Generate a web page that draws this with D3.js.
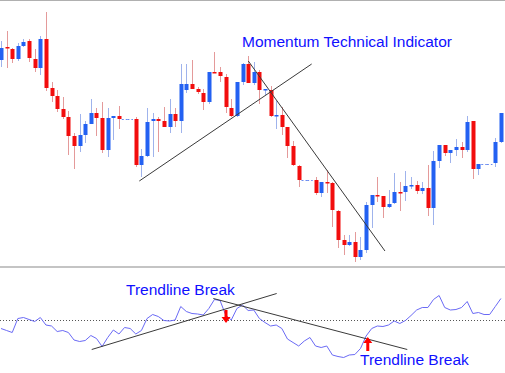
<!DOCTYPE html>
<html>
<head>
<meta charset="utf-8">
<script src="https://cdn.jsdelivr.net/npm/d3@7"></script>
<style>
  html, body { margin: 0; padding: 0; background: #fff; }
  svg { display: block; font-family: 'Liberation Sans', Arial, sans-serif; }
</style>
</head>
<body>
<div id="box-div"></div>
<script>
// candle data (price), one entry per bar
const opens = [1.3440,1.3453,1.3451,1.3441,1.3454,1.3459,1.3441,1.3432,1.3461,1.3412,
  1.3404,1.3391,1.3383,1.3364,1.3354,1.3365,1.3376,1.3387,1.3382,1.3350,
  1.3382,1.3384,1.3381,1.3381,1.3381,1.3335,1.3344,1.3379,1.3381,1.3379,
  1.3373,1.3386,1.3379,1.3410,1.3416,1.3411,1.3407,1.3398,1.3428,1.3428,
  1.3423,1.3392,1.3384,1.3418,1.3436,1.3417,1.3428,1.3410,1.3410,1.3384,
  1.3385,1.3373,1.3354,1.3334,1.3320,1.3320,1.3320,1.3307,1.3318,1.3317,
  1.3289,1.3260,1.3255,1.3258,1.3243,1.3250,1.3295,1.3305,1.3304,1.3293,
  1.3297,1.3308,1.3308,1.3314,1.3315,1.3309,1.3312,1.3292,1.3339,1.3355,
  1.3347,1.3350,1.3353,1.3350,1.3379,1.3331,1.3336,1.3336,1.3337,1.3358]
const highs = [1.3459,1.3469,1.3452,1.3457,1.3461,1.3461,1.3451,1.3464,1.3488,1.3418,
  1.3410,1.3403,1.3389,1.3367,1.3386,1.3379,1.3401,1.3392,1.3398,1.3392,
  1.3384,1.3394,1.3381,1.3381,1.3383,1.3351,1.3392,1.3387,1.3383,1.3393,
  1.3401,1.3392,1.3436,1.3436,1.3440,1.3413,1.3411,1.3428,1.3448,1.3433,
  1.3426,1.3401,1.3418,1.3437,1.3444,1.3438,1.3430,1.3411,1.3414,1.3399,
  1.3393,1.3373,1.3359,1.3335,1.3320,1.3320,1.3323,1.3318,1.3330,1.3318,
  1.3290,1.3265,1.3265,1.3268,1.3263,1.3298,1.3305,1.3323,1.3304,1.3310,
  1.3327,1.3318,1.3329,1.3323,1.3319,1.3318,1.3335,1.3349,1.3355,1.3355,
  1.3350,1.3361,1.3358,1.3384,1.3379,1.3336,1.3336,1.3336,1.3362,1.3387]
const lows = [1.3433,1.3432,1.3437,1.3439,1.3453,1.3438,1.3428,1.3425,1.3409,1.3398,
  1.3388,1.3381,1.3345,1.3331,1.3348,1.3357,1.3376,1.3364,1.3347,1.3343,
  1.3360,1.3371,1.3381,1.3381,1.3333,1.3323,1.3343,1.3343,1.3348,1.3373,
  1.3367,1.3373,1.3367,1.3407,1.3411,1.3406,1.3390,1.3396,1.3427,1.3418,
  1.3387,1.3383,1.3383,1.3415,1.3417,1.3415,1.3396,1.3405,1.3383,1.3371,
  1.3365,1.3342,1.3334,1.3313,1.3320,1.3320,1.3305,1.3303,1.3307,1.3273,
  1.3252,1.3245,1.3254,1.3238,1.3240,1.3247,1.3272,1.3298,1.3282,1.3292,
  1.3296,1.3289,1.3299,1.3311,1.3306,1.3306,1.3284,1.3275,1.3332,1.3344,
  1.3337,1.3344,1.3342,1.3348,1.3321,1.3325,1.3336,1.3336,1.3333,1.3357]
const closes = [1.3452,1.3452,1.3441,1.3454,1.3458,1.3442,1.3432,1.3461,1.3412,1.3404,
  1.3391,1.3383,1.3364,1.3354,1.3365,1.3376,1.3387,1.3382,1.3350,1.3382,
  1.3384,1.3381,1.3381,1.3381,1.3335,1.3344,1.3378,1.3381,1.3379,1.3373,
  1.3386,1.3379,1.3416,1.3416,1.3411,1.3408,1.3398,1.3428,1.3427,1.3424,
  1.3393,1.3384,1.3418,1.3436,1.3417,1.3428,1.3410,1.3411,1.3384,1.3385,
  1.3373,1.3354,1.3335,1.3320,1.3320,1.3320,1.3307,1.3318,1.3317,1.3290,
  1.3260,1.3255,1.3258,1.3243,1.3250,1.3295,1.3305,1.3304,1.3293,1.3296,
  1.3308,1.3307,1.3314,1.3315,1.3309,1.3312,1.3292,1.3339,1.3355,1.3347,
  1.3350,1.3353,1.3350,1.3378,1.3331,1.3336,1.3336,1.3336,1.3358,1.3387]

// momentum indicator values
const momentum = [99.85,99.81,99.77,100.05,100.07,100.03,99.99,100.07,99.92,99.90,
  99.79,99.81,99.77,99.62,99.59,99.61,99.71,99.65,99.49,99.67,
  99.82,99.74,99.87,99.85,99.74,99.81,100.05,100.13,100.09,100.01,
  100.00,100.02,100.29,100.19,100.15,100.14,100.12,100.25,100.43,100.41,
  100.12,100.02,100.25,100.32,100.21,100.22,100.05,99.97,99.90,99.92,
  99.85,99.64,99.57,99.50,99.60,99.67,99.50,99.47,99.50,99.32,
  99.29,99.27,99.32,99.33,99.45,99.70,99.85,99.90,99.89,99.92,
  100.00,99.95,100.01,100.11,100.22,100.27,100.27,100.43,100.51,100.27,
  100.22,100.23,100.27,100.39,100.15,100.17,100.13,100.13,100.29,100.45]

// trendlines: [barIndex, value]
const priceTrendUp = [[24.62, 1.3319], [55.31, 1.3436]]
const priceTrendDown = [[44.03, 1.3439], [68.36, 1.3249]]
const momTrendUp = [[16.15, 99.43], [49.08, 100.55]]
const momTrendDown = [[37.8, 100.45], [72.33, 99.43]]
// arrows: [barIndex, from, to]
const arrows = [[40.06, 100.22, 99.96], [65.3, 99.40, 99.68]]

const labels = [
  { text: 'Momentum Technical Indicator', x: 242, y: 47 },
  { text: 'Trendline Break', x: 126, y: 294.5 },
  { text: 'Trendline Break', x: 360, y: 364.5 }
]

let dms = {
  width: 505,
  height: 373,
  priceTop: 0,
  priceBottom: 268,
  momTop: 271,
  momBottom: 371
}

const data = opens.map((o, i) => ({ i: i, o: o, h: highs[i], l: lows[i], c: closes[i] }))

const svg = d3.select('#box-div').append('svg')
  .attr('width', dms.width)
  .attr('height', dms.height)

// scales
const xScale = d3.scaleLinear().domain([0, 89]).range([1, 500.9])
const yScale = d3.scaleLinear().domain([1.3232, 1.3500]).range([dms.priceBottom, dms.priceTop])
const mScale = d3.scaleLinear().domain([99, 101]).range([dms.momBottom, dms.momTop])

// frame lines
svg.append('line').attr('x1', 0).attr('x2', dms.width).attr('y1', 0.5).attr('y2', 0.5)
  .attr('stroke', '#b0b0b0').attr('stroke-width', 1)
svg.append('line').attr('x1', 0).attr('x2', dms.width).attr('y1', 267).attr('y2', 267)
  .attr('stroke', '#c4c4c4').attr('stroke-width', 2)

const flat = d => d.o === d.c && d.h === d.l
const up = d => d.c >= d.o

// flat bars drawn as dashed segments
svg.append('g').selectAll('line')
  .data(data.filter(flat))
  .enter().append('line')
  .attr('x1', d => xScale(d.i) - 2.8)
  .attr('x2', d => xScale(d.i) + 2.8)
  .attr('y1', d => Math.round(yScale(d.c)) + 0.5)
  .attr('y2', d => Math.round(yScale(d.c)) + 0.5)
  .attr('stroke', '#6c8cf0')
  .attr('stroke-dasharray', '2,2')

const candles = svg.append('g').selectAll('g')
  .data(data.filter(d => !flat(d)))
  .enter().append('g')

// wicks
candles.append('line')
  .attr('x1', d => Math.round(xScale(d.i)) + 0.5)
  .attr('x2', d => Math.round(xScale(d.i)) + 0.5)
  .attr('y1', d => yScale(d.h))
  .attr('y2', d => yScale(d.l))
  .attr('stroke', d => up(d) ? '#9fb3ec' : '#e49a9a')
  .attr('stroke-width', 1)

// bodies
candles.append('rect')
  .attr('x', d => Math.round(xScale(d.i)) - 1.5)
  .attr('width', 4)
  .attr('y', d => yScale(Math.max(d.o, d.c)))
  .attr('height', d => Math.max(1.5, Math.abs(yScale(d.o) - yScale(d.c))))
  .attr('fill', d => up(d) ? '#2361f2' : '#f20d0d')

const line = d3.line().x(d => xScale(d[0])).y(d => yScale(d[1]))
const mLine = d3.line().x(d => xScale(d[0])).y(d => mScale(d[1]))

// price trendlines
;[priceTrendUp, priceTrendDown].forEach(t => {
  svg.append('path').attr('d', line(t))
    .attr('fill', 'none').attr('stroke', '#3a3a3a').attr('stroke-width', 1)
})

// momentum zero (100) line
svg.append('line')
  .attr('x1', 0).attr('x2', dms.width)
  .attr('y1', Math.round(mScale(100)) - 0.5).attr('y2', Math.round(mScale(100)) - 0.5)
  .attr('stroke', '#555').attr('stroke-dasharray', '1,2')

// momentum line
svg.append('path')
  .datum(momentum.map((m, i) => [i, m]))
  .attr('d', mLine)
  .attr('fill', 'none')
  .attr('stroke', '#6a6af5')
  .attr('stroke-width', 1)

// momentum trendlines
;[momTrendUp, momTrendDown].forEach(t => {
  svg.append('path').attr('d', mLine(t))
    .attr('fill', 'none').attr('stroke', '#3a3a3a').attr('stroke-width', 1)
})

// red arrows
arrows.forEach(a => {
  const x = xScale(a[0])
  const y0 = mScale(a[1])
  const y1 = mScale(a[2])
  const dir = y1 > y0 ? 1 : -1
  const headLen = 6
  const yh = y1 - dir * headLen
  svg.append('path')
    .attr('d', `M${x - 1.5},${y0} L${x + 1.5},${y0} L${x + 1.5},${yh} L${x + 4.5},${yh} L${x},${y1} L${x - 4.5},${yh} L${x - 1.5},${yh} Z`)
    .attr('fill', '#ff0000')
})

// labels
svg.selectAll('.label')
  .data(labels)
  .enter().append('text')
  .attr('class', 'label')
  .attr('x', d => d.x)
  .attr('y', d => d.y)
  .attr('fill', '#1010ff')
  .style('font-size', '15.5px')
  .text(d => d.text)
</script>
</body>
</html>
